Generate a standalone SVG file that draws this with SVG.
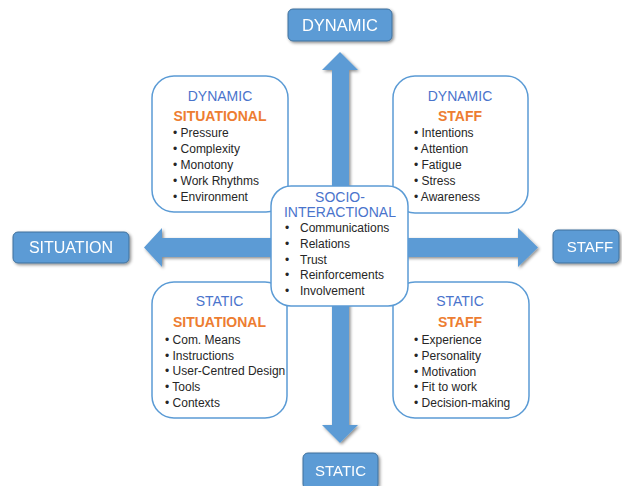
<svg xmlns="http://www.w3.org/2000/svg" width="622" height="486" viewBox="0 0 622 486">
<defs>
<filter id="sh" x="-20%" y="-20%" width="140%" height="140%">
<feDropShadow dx="1.5" dy="1.5" stdDeviation="1.8" flood-color="#000" flood-opacity="0.45"/>
</filter>
<style>
.lbl{fill:#5B9BD5;stroke:#41719C;stroke-width:1}
.lt{font-family:"Liberation Sans",Arial,sans-serif;fill:#fff;text-anchor:middle;dominant-baseline:central}
.card{fill:#fff;stroke:#5B9BD5;stroke-width:1.5}
.t1{font-family:"Liberation Sans",Arial,sans-serif;font-size:14px;fill:#4A74CC;text-anchor:middle;dominant-baseline:central}
.t2{font-family:"Liberation Sans",Arial,sans-serif;font-size:14px;font-weight:bold;fill:#ED7D31;text-anchor:middle;dominant-baseline:central}
.b{font-family:"Liberation Sans",Arial,sans-serif;font-size:12px;fill:#262626;dominant-baseline:central}
.arr{fill:#5B9BD5}
</style>
</defs>
<rect width="622" height="486" fill="#fff"/>
<g id="connectors" filter="url(#sh)">
<polygon class="arr" points="144,247.5 162,228 162,238 518,238 518,228 538,247.5 518,267 518,257 162,257 162,267"/>
<polygon class="arr" points="340,52 358,70 349,70 349,425 358,425 340,443 322,425 332,425 332,70 322,70"/>
</g>
<g id="dynamic-label" filter="url(#sh)">
<rect class="lbl" x="288" y="9" width="104" height="32" rx="5"/>
<text class="lt" x="340" y="25" font-size="16.5">DYNAMIC</text>
</g>
<g id="situation-label" filter="url(#sh)">
<rect class="lbl" x="13" y="232" width="116" height="31" rx="5"/>
<text class="lt" x="71" y="247.5" font-size="16">SITUATION</text>
</g>
<g id="staff-label" filter="url(#sh)">
<rect class="lbl" x="553" y="230" width="66" height="33" rx="5"/>
<text class="lt" x="590" y="246.5" font-size="15">STAFF</text>
</g>
<g id="static-label" filter="url(#sh)">
<rect class="lbl" x="303" y="453" width="75" height="36" rx="5"/>
<text class="lt" x="340.5" y="470" font-size="15">STATIC</text>
</g>
<g id="dynamic-situational">
<rect class="card" x="152" y="76" width="136" height="136" rx="22"/>
<text class="t1" x="220" y="96">DYNAMIC</text>
<text class="t2" x="220" y="116">SITUATIONAL</text>
<text class="b" x="173" y="133">• Pressure</text>
<text class="b" x="173" y="149">• Complexity</text>
<text class="b" x="173" y="165">• Monotony</text>
<text class="b" x="173" y="181">• Work Rhythms</text>
<text class="b" x="173" y="197">• Environment</text>
</g>
<g id="dynamic-staff">
<rect class="card" x="393" y="76" width="135" height="137" rx="22"/>
<text class="t1" x="460" y="96">DYNAMIC</text>
<text class="t2" x="460" y="116">STAFF</text>
<text class="b" x="414" y="133">• Intentions</text>
<text class="b" x="414" y="149">• Attention</text>
<text class="b" x="414" y="165">• Fatigue</text>
<text class="b" x="414" y="181">• Stress</text>
<text class="b" x="414" y="197">• Awareness</text>
</g>
<g id="static-situational">
<rect class="card" x="152" y="282" width="135" height="136" rx="22"/>
<text class="t1" x="219.5" y="301">STATIC</text>
<text class="t2" x="219.5" y="322">SITUATIONAL</text>
<text class="b" x="165" y="340">• Com. Means</text>
<text class="b" x="165" y="356">• Instructions</text>
<text class="b" x="165" y="371">• User-Centred Design</text>
<text class="b" x="165" y="387">• Tools</text>
<text class="b" x="165" y="403">• Contexts</text>
</g>
<g id="static-staff">
<rect class="card" x="393" y="282" width="136" height="136" rx="22"/>
<text class="t1" x="460" y="301">STATIC</text>
<text class="t2" x="460" y="322">STAFF</text>
<text class="b" x="414" y="340">• Experience</text>
<text class="b" x="414" y="356">• Personality</text>
<text class="b" x="414" y="372">• Motivation</text>
<text class="b" x="414" y="387">• Fit to work</text>
<text class="b" x="414" y="403">• Decision-making</text>
</g>
<g id="socio-interactional">
<rect class="card" x="271" y="186" width="137" height="120" rx="20"/>
<text class="t1" x="340" y="197">SOCIO-</text>
<text class="t1" x="340" y="212">INTERACTIONAL</text>
<text class="b" x="285" y="228">•</text>
<text class="b" x="300" y="228">Communications</text>
<text class="b" x="285" y="244">•</text>
<text class="b" x="300" y="244">Relations</text>
<text class="b" x="285" y="260">•</text>
<text class="b" x="300" y="260">Trust</text>
<text class="b" x="285" y="275">•</text>
<text class="b" x="300" y="275">Reinforcements</text>
<text class="b" x="285" y="291">•</text>
<text class="b" x="300" y="291">Involvement</text>
</g>
</svg>
